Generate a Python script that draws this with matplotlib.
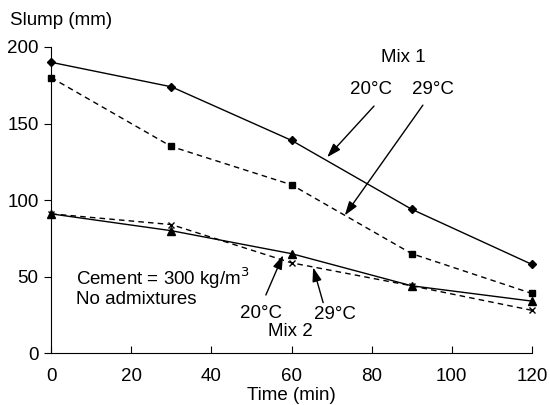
import numpy as np
import matplotlib.pyplot as plt

plt.rcParams['font.family'] = ['Liberation Sans', 'DejaVu Sans']

time_min = [0, 30, 60, 90, 120]
mix1_20c = [190, 174, 139, 94, 58]
mix1_29c = [180, 135, 110, 65, 39]
mix2_20c = [91, 80, 65, 44, 34]
mix2_29c = [91, 84, 59, 44, 28]

fig = plt.figure(figsize=(5.5, 4.05), dpi=100)
ax = fig.add_axes([0.093, 0.128, 0.874, 0.756])

kw = dict(color='black', lw=1.0, clip_on=False)
ax.plot(time_min, mix1_20c, '-', marker='D', ms=4, **kw)
ax.plot(time_min, mix1_29c, '--', marker='s', ms=4, dashes=(4, 3), **kw)
ax.plot(time_min, mix2_20c, '-', marker='^', ms=6, **kw)
ax.plot(time_min, mix2_29c, '--', marker='x', ms=5, dashes=(4, 3), **kw)

fs = 13.5

ax.set_xlim(0, 120)
ax.set_ylim(0, 200)
ax.set_xticks(np.arange(0, 121, 20))
ax.set_yticks(np.arange(0, 201, 50))
ax.spines['top'].set_visible(False)
ax.spines['right'].set_visible(False)
ax.tick_params(axis='x', direction='in', length=5, labelsize=fs, pad=11)
ax.tick_params(axis='y', direction='out', length=5, labelsize=fs, pad=4)
ax.set_xlabel('Time (min)', fontsize=fs, labelpad=1)
fig.text(0.018, 0.95, 'Slump (mm)', fontsize=fs, va='center', ha='left')

arr = dict(arrowstyle='-|>,head_length=0.6,head_width=0.2', color='black',
           lw=1.0, mutation_scale=14, shrinkA=0, shrinkB=0)

# Mix 1 labels
ax.text(88, 193, 'Mix 1', fontsize=fs, ha='center', va='center')
ax.text(79.9, 172, '20°C', fontsize=fs, ha='center', va='center')
ax.text(95.2, 172, '29°C', fontsize=fs, ha='center', va='center')
ax.annotate('', xy=(68.9, 128), xytext=(80.6, 161.4), arrowprops=arr)
ax.annotate('', xy=(73.3, 90), xytext=(92.8, 162), arrowprops=arr)

# Mix 2 labels
ax.text(52.4, 26, '20°C', fontsize=fs, ha='center', va='center')
ax.text(59.6, 14.4, 'Mix 2', fontsize=fs, ha='center', va='center')
ax.text(70.9, 25, '29°C', fontsize=fs, ha='center', va='center')
ax.annotate('', xy=(57.9, 64), xytext=(53.6, 38), arrowprops=arr)
ax.annotate('', xy=(65.4, 56), xytext=(67.9, 33), arrowprops=arr)

ax.text(6.2, 49, 'Cement = 300 kg/m$^3$', fontsize=fs, ha='left', va='center')
ax.text(6.2, 35, 'No admixtures', fontsize=fs, ha='left', va='center')

fig.savefig('out.png', dpi=100)
